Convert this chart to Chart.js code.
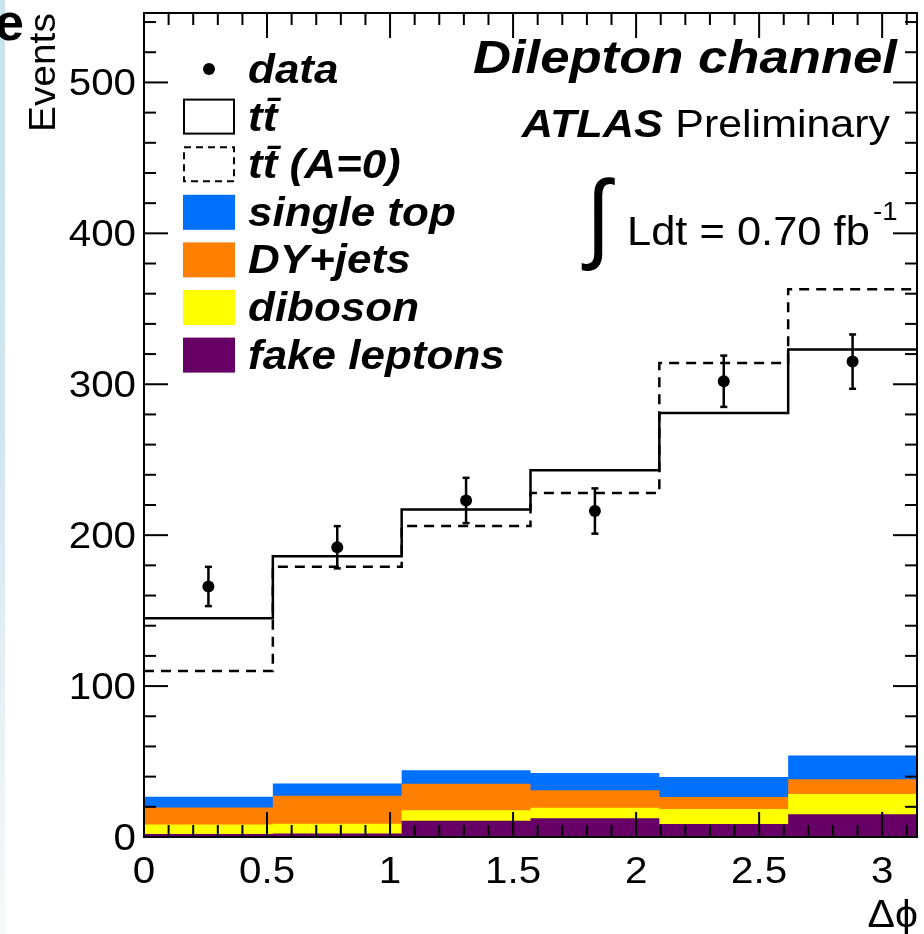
<!DOCTYPE html>
<html lang="en">
<head>
	<meta charset="UTF-8">
	<title>dilepton delta phi</title>
	<script src="https://cdn.jsdelivr.net/npm/chart.js"></script>
	<style>
		body { margin:0; background:#fff; }
		#wrap { position:relative; width:924px; height:934px; overflow:hidden; }
		#strip { position:absolute; left:0; top:0; width:5px; height:934px;
			background:linear-gradient(#c9e4ea, #cfe6ee 45%, #e4eef3 70%, #f6f9f9); }
		#head { position:absolute; left:-5px; top:-4px; font:bold 52px "Liberation Sans"; line-height:52px; color:#000; }
		#c { position:absolute; left:0; top:0; }
	</style>
</head>
<body>
	<div id="wrap">
		<div id="strip"></div>
		<div id="head">e</div>
		<canvas id="c" width="924" height="934"></canvas>
	</div>

	<script>

		// six bins of pi/6 in delta phi
		var binEdges=[0,0.5236,1.0472,1.5708,2.0944,2.618,3.1416];
		var binCenters=[0.2618,0.7854,1.309,1.8326,2.3562,2.8798];

		var dataEvents=[166,192,223,216,302,315];
		var dataErrors=[13,14,15,15,17,18];
		var ttbar=[145,186,217,243,281,323];
		var ttbarA0=[110,179,206,228,314,363];

		// backgrounds, bottom of the stack first
		var fakeLeptons=[2,2.4,10.8,12.4,8.6,15];
		var diboson=[6.2,6.4,6.9,7,9.9,13.5];
		var dyJets=[11.4,18.6,17.6,11.5,8,9.7];
		var singleTop=[7,8.1,8.9,11.5,13.2,15.8];

		var xTickValues=[0,0.5,1,1.5,2,2.5,3];
		var xTickLabels=["0","0.5","1","1.5","2","2.5","3"];
		var yTickValues=[0,100,200,300,400,500];
		var yTickLabels=["0","100","200","300","400","500"];

		var legendLabels=["data","tt\u0304","tt\u0304 (A=0)","single top","DY+jets","diboson","fake leptons"];
		var legendKinds=["dot","line","dash","fill","fill","fill","fill"];
		var legendColors=["#000","#000","#000","#0070ff","#ff7f00","#ffff00","#660066"];

		function steps(vals){
			return binEdges.map(function(e,i){
				return {x:e,y:vals[Math.min(i,vals.length-1)]};
			});
		}

		function bkg(vals,color){
			return {
				data:steps(vals),
				stack:"bkg",
				stepped:"before",
				fill:"origin",
				backgroundColor:color,
				borderColor:"rgba(0,0,0,0)",
				borderWidth:0,
				pointRadius:0
			};
		}

		function txt(ctx,s,x,y,font,align,sx){
			ctx.save();
			ctx.font=font;
			ctx.textAlign=align;
			ctx.textBaseline="alphabetic";
			ctx.translate(x,y);
			ctx.scale(sx,1);
			ctx.fillText(s,0,0);
			ctx.restore();
		}

		function seg(ctx,x1,y1,x2,y2){
			ctx.beginPath();
			ctx.moveTo(x1,y1);
			ctx.lineTo(x2,y2);
			ctx.stroke();
		}

		var deco={
			id:"deco",
			afterDatasetsDraw:function(chart){
				var ctx=chart.ctx,a=chart.chartArea,xs=chart.scales.x,ys=chart.scales.y;
				ctx.save();
				ctx.strokeStyle="#000";

				// error bars
				ctx.lineWidth=2.5;
				dataEvents.forEach(function(v,i){
					var px=xs.getPixelForValue(binCenters[i]),
						lo=ys.getPixelForValue(v-dataErrors[i]),
						hi=ys.getPixelForValue(v+dataErrors[i]);
					seg(ctx,px,lo,px,hi);
					seg(ctx,px-3.5,lo,px+3.5,lo);
					seg(ctx,px-3.5,hi,px+3.5,hi);
				});

				// inward ticks on all four sides
				ctx.lineWidth=2;
				for(var k=0;k<=31;k++){
					var px=xs.getPixelForValue(k/10),len=(k%5===0)?25:12;
					seg(ctx,px,a.bottom,px,a.bottom-len);
					seg(ctx,px,a.top,px,a.top+len);
				}
				for(var j=0;j*20<=ys.max;j++){
					var py=ys.getPixelForValue(j*20),ylen=(j%5===0)?24:12;
					seg(ctx,a.left,py,a.left+ylen,py);
					seg(ctx,a.right,py,a.right-ylen,py);
				}
				ctx.strokeRect(a.left,a.top,a.right-a.left,a.bottom-a.top);
				ctx.restore();
			},
			afterDraw:function(chart){
				var ctx=chart.ctx,xs=chart.scales.x,ys=chart.scales.y;
				var tickFont='36px "Liberation Sans"';
				ctx.save();
				ctx.fillStyle="#000";

				xTickValues.forEach(function(v,i){
					txt(ctx,xTickLabels[i],xs.getPixelForValue(v),883,tickFont,"center",1.12);
				});
				yTickValues.forEach(function(v,i){
					txt(ctx,yTickLabels[i],136,ys.getPixelForValue(v)+13,tickFont,"right",1.12);
				});

				// axis titles
				txt(ctx,"\u0394\u03d5",918,927,'38px "Liberation Sans", "DejaVu Sans"',"right",1.08);
				ctx.save();
				ctx.translate(55,132);
				ctx.rotate(-Math.PI/2);
				txt(ctx,"Events",0,0,'36px "Liberation Sans"',"left",1.08);
				ctx.restore();

				// legend
				var lx=183,ly=69,dy=47.6;
				legendLabels.forEach(function(lab,i){
					var cy=ly+i*dy,kind=legendKinds[i];
					ctx.save();
					if(kind==="dot"){
						ctx.beginPath();
						ctx.arc(209,cy,6,0,2*Math.PI);
						ctx.fill();
					} else if(kind==="fill"){
						ctx.fillStyle=legendColors[i];
						ctx.fillRect(lx,cy-17,52,35);
					} else {
						ctx.lineWidth=2;
						if(kind==="dash") ctx.setLineDash([7,5]);
						ctx.strokeRect(lx+1,cy-17,50,34);
					}
					ctx.restore();
					txt(ctx,lab,248,cy+14,'italic bold 40px "Liberation Sans"',"left",1.1);
				});

				// labels top right
				txt(ctx,"Dilepton channel",897,73,'italic bold 47px "Liberation Sans"',"right",1.12);
				txt(ctx,"ATLAS",663,137,'italic bold 38px "Liberation Sans"',"right",1.14);
				txt(ctx,"Preliminary",890,137,'38px "Liberation Sans"',"right",1.13);
				txt(ctx,"\u222b",586,250,'99px "Liberation Sans"',"left",0.9);
				txt(ctx,"Ldt = 0.70 fb",627,245,'41px "Liberation Sans"',"left",1.06);
				txt(ctx,"-1",873,220,'26px "Liberation Sans"',"left",1.06);
				ctx.restore();
			}
		};

		var datasets=[
			{
				data:binCenters.map(function(c,i){ return {x:c,y:dataEvents[i]}; }),
				showLine:false,
				pointRadius:6,
				pointBackgroundColor:"#000",
				pointBorderWidth:0
			},
			{
				data:steps(ttbar),
				stepped:"before",
				borderColor:"#000",
				borderWidth:2.5,
				pointRadius:0,
				fill:false
			},
			{
				data:steps(ttbarA0),
				stepped:"before",
				borderColor:"#000",
				borderWidth:2.5,
				borderDash:[10,7],
				pointRadius:0,
				fill:false
			},
			bkg(fakeLeptons,legendColors[6]),
			bkg(diboson,legendColors[5]),
			bkg(dyJets,legendColors[4]),
			bkg(singleTop,legendColors[3])
		];

		new Chart(document.getElementById("c"),{
			type:"line",
			data:{datasets:datasets},
			options:{
				responsive:false,
				animation:false,
				events:[],
				layout:{padding:{top:13,right:7,left:0,bottom:0}},
				plugins:{legend:{display:false},tooltip:{enabled:false}},
				scales:{
					x:{
						type:"linear",min:0,max:Math.PI,offset:false,
						ticks:{display:false},grid:{display:false},border:{display:false},
						afterFit:function(s){ s.height=97; }
					},
					y:{
						type:"linear",min:0,max:546,
						ticks:{display:false},grid:{display:false},border:{display:false},
						afterFit:function(s){ s.width=144; }
					}
				}
			},
			plugins:[deco]
		});

	</script>
</body>
</html>
